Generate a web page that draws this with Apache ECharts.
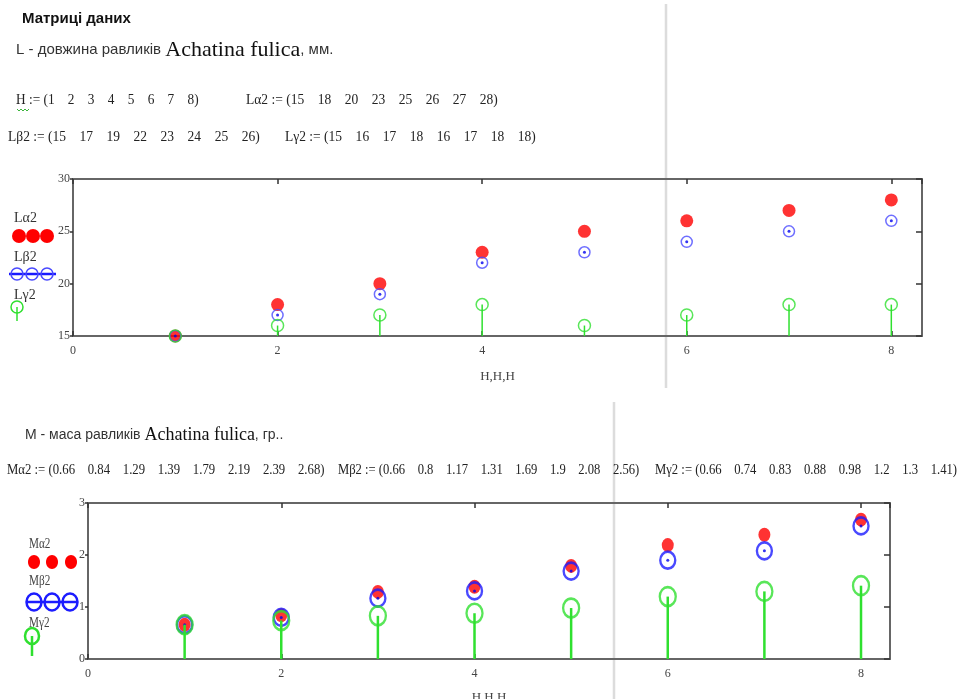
<!DOCTYPE html>
<html>
<head>
<meta charset="utf-8">
<title>Матриці даних</title>
<script src="https://cdn.jsdelivr.net/npm/echarts@6/dist/echarts.min.js"></script>
<style>
html, body { margin: 0; padding: 0; background: #fff; }
#chart { width: 962px; height: 699px; }
</style>
</head>
<body>
<div id="chart"></div>
<script>
// Matrices from the Mathcad sheet
const H = [1, 2, 3, 4, 5, 6, 7, 8];
const La2 = [15, 18, 20, 23, 25, 26, 27, 28];
const Lb2 = [15, 17, 19, 22, 23, 24, 25, 26];
const Lg2 = [15, 16, 17, 18, 16, 17, 18, 18];
const Ma2 = [0.66, 0.84, 1.29, 1.39, 1.79, 2.19, 2.39, 2.68];
const Mb2 = [0.66, 0.8, 1.17, 1.31, 1.69, 1.9, 2.08, 2.56];
const Mg2 = [0.66, 0.74, 0.83, 0.88, 0.98, 1.2, 1.3, 1.41];

// Axis tick labels
const xTicks = [0, 2, 4, 6, 8];
const xLimit = 8.3;
const lTicks = [15, 20, 25, 30];
const mTicks = [0, 1, 2, 3];

const RED = '#ff0000';
const BLUE = '#4a4aff';
const GREEN = '#2fe02f';
const serif = "'Liberation Serif', 'Times New Roman', serif";
const sans = "'Liberation Sans', Arial, sans-serif";

const zip = (xs, ys) => xs.map((x, i) => [x, ys[i]]);
const formula = (name, arr) => name + ' := (' + arr.join('\u2003') + ')';

const chart = echarts.init(document.getElementById('chart'));

// value axes, one pair (bottom/top or left/right) per plot
const xAxisFor = (grid, pos, gap) => ({
    type: 'value',
    gridIndex: grid,
    position: pos,
    min: xTicks[0],
    max: xLimit,
    interval: xTicks[1] - xTicks[0],
    name: pos === 'bottom' ? 'H,H,H' : '',
    nameLocation: 'middle',
    nameGap: gap || 34,
    nameTextStyle: { fontFamily: serif, fontSize: 13, color: '#444' },
    axisLine: { show: true, onZero: false, lineStyle: { color: '#666', width: 2 } },
    axisTick: { show: true, inside: true, length: 5, lineStyle: { color: '#333', width: 1.5 } },
    axisLabel: {
        show: pos === 'bottom',
        showMaxLabel: false,
        margin: 9,
        fontFamily: serif,
        fontSize: 12,
        color: '#444'
    },
    splitLine: { show: false }
});

const yAxisFor = (grid, pos, ticks) => ({
    type: 'value',
    gridIndex: grid,
    position: pos,
    min: ticks[0],
    max: ticks[ticks.length - 1],
    interval: ticks[1] - ticks[0],
    axisLine: { show: true, onZero: false, lineStyle: { color: '#666', width: 2 } },
    axisTick: {
        show: true,
        inside: pos === 'right',
        length: pos === 'right' ? 6 : 3,
        lineStyle: { color: '#333', width: 1.5 }
    },
    axisLabel: {
        show: pos === 'left',
        margin: 3,
        fontFamily: serif,
        fontSize: 12,
        color: '#444'
    },
    splitLine: { show: false }
});

// stem from the point down to the bottom of the axis
const stem = (base, width) => (params, api) => {
    const top = api.coord([api.value(0), api.value(1)]);
    const bottom = api.coord([api.value(0), base]);
    return {
        type: 'line',
        shape: { x1: top[0], y1: top[1], x2: bottom[0], y2: bottom[1] },
        style: { stroke: GREEN, lineWidth: width }
    };
};

const ring = (color, width) => ({ color: 'rgba(0,0,0,0)', borderColor: color, borderWidth: width });

const text = (x, y, str, font, extra, fill) => Object.assign({
    type: 'text', x: x, y: y, z: 10,
    style: { text: str, font: font, fill: fill || '#222', verticalAlign: 'middle' }
}, extra || {});

const option = {
    animation: false,
    backgroundColor: '#fff',
    grid: [
        { left: 73, top: 179, width: 849, height: 157, outerBoundsMode: 'none' },
        { left: 88, top: 503, width: 802, height: 156, outerBoundsMode: 'none' }
    ],
    xAxis: [xAxisFor(0, 'bottom', 34), xAxisFor(0, 'top'), xAxisFor(1, 'bottom', 32), xAxisFor(1, 'top')],
    yAxis: [yAxisFor(0, 'left', lTicks), yAxisFor(0, 'right', lTicks),
            yAxisFor(1, 'left', mTicks), yAxisFor(1, 'right', mTicks)],
    series: [
        // upper plot: length
        { name: 'Lα2', type: 'scatter', xAxisIndex: 0, yAxisIndex: 0, z: 2,
          data: zip(H, La2), symbol: 'circle', symbolSize: 13, itemStyle: { color: RED } },
        { name: 'Lβ2', type: 'scatter', xAxisIndex: 0, yAxisIndex: 0, z: 3,
          data: zip(H, Lb2), symbol: 'circle', symbolSize: 11, itemStyle: ring(BLUE, 1.5) },
        { name: 'Lβ2 dot', type: 'scatter', xAxisIndex: 0, yAxisIndex: 0, z: 3,
          data: zip(H, Lb2), symbol: 'circle', symbolSize: 3, itemStyle: { color: '#0000ee' } },
        { name: 'Lγ2 stem', type: 'custom', xAxisIndex: 0, yAxisIndex: 0, z: 4,
          data: zip(H, Lg2), encode: { x: 0, y: 1 }, renderItem: stem(lTicks[0], 1.5) },
        { name: 'Lγ2', type: 'scatter', xAxisIndex: 0, yAxisIndex: 0, z: 4,
          data: zip(H, Lg2), symbol: 'circle', symbolSize: 12, itemStyle: ring(GREEN, 1.5) },

        // lower plot: mass
        { name: 'Mα2', type: 'scatter', xAxisIndex: 2, yAxisIndex: 2, z: 2,
          data: zip(H, Ma2), symbol: 'circle', symbolSize: [12, 14], itemStyle: { color: RED } },
        { name: 'Mβ2', type: 'scatter', xAxisIndex: 2, yAxisIndex: 2, z: 3,
          data: zip(H, Mb2), symbol: 'circle', symbolSize: [15, 17], itemStyle: ring('#1c1cff', 2.5) },
        { name: 'Mβ2 dot', type: 'scatter', xAxisIndex: 2, yAxisIndex: 2, z: 3,
          data: zip(H, Mb2), symbol: 'circle', symbolSize: 3, itemStyle: { color: '#0000ee' } },
        { name: 'Mγ2 stem', type: 'custom', xAxisIndex: 2, yAxisIndex: 2, z: 4,
          data: zip(H, Mg2), encode: { x: 0, y: 1 }, renderItem: stem(mTicks[0], 2.5) },
        { name: 'Mγ2', type: 'scatter', xAxisIndex: 2, yAxisIndex: 2, z: 4,
          data: zip(H, Mg2), symbol: 'circle', symbolSize: [16, 19], itemStyle: ring(GREEN, 2.5) }
    ],
    graphic: [
        // page break lines of the worksheet
        { type: 'line', z: -10, shape: { x1: 666, y1: 4, x2: 666, y2: 388 },
          style: { stroke: '#dcdcdc', lineWidth: 2.5 } },
        { type: 'line', z: -10, shape: { x1: 614, y1: 402, x2: 614, y2: 699 },
          style: { stroke: '#dcdcdc', lineWidth: 2.5 } },

        // header texts
        text(22, 19, 'Матриці даних', 'bold 15px ' + sans, null, '#111'),
        { type: 'text', x: 16, y: 50, z: 10, style: {
            text: '{a|L - довжина равликів }{b|Achatina fulica}{a|, мм.}',
            verticalAlign: 'middle',
            rich: {
                a: { font: '15px ' + sans, fill: '#333' },
                b: { font: '22px ' + serif, fill: '#111' }
            } } },
        text(16, 100, formula('H', H), '14px ' + serif, { scaleX: 0.95 }),
        { type: 'polyline', z: 10, shape: { points: [[17, 109], [19, 111], [21, 109], [23, 111], [25, 109], [27, 111], [29, 109]] },
          style: { stroke: '#3cb43c', lineWidth: 1, fill: null } },
        text(246, 100, formula('Lα2', La2), '14px ' + serif, { scaleX: 0.965 }),
        text(8, 137, formula('Lβ2', Lb2), '14px ' + serif, { scaleX: 0.965 }),
        text(285, 137, formula('Lγ2', Lg2), '14px ' + serif, { scaleX: 0.965 }),

        { type: 'text', x: 25, y: 435, z: 10, style: {
            text: '{a|M - маса равликів }{b|Achatina fulica}{a|, гр..}',
            verticalAlign: 'middle',
            rich: {
                a: { font: '14px ' + sans, fill: '#333' },
                b: { font: '18px ' + serif, fill: '#111' }
            } } },
        text(7, 470, formula('Mα2', Ma2), '14px ' + serif, { scaleX: 0.91 }),
        text(338, 470, formula('Mβ2', Mb2), '14px ' + serif, { scaleX: 0.9 }),
        text(655, 470, formula('Mγ2', Mg2), '14px ' + serif, { scaleX: 0.905 }),

        // legend of the upper plot
        text(14, 218, 'Lα2', '14px ' + serif, null, '#333'),
        { type: 'circle', z: 10, shape: { cx: 19, cy: 236, r: 7 }, style: { fill: RED } },
        { type: 'circle', z: 10, shape: { cx: 33, cy: 236, r: 7 }, style: { fill: RED } },
        { type: 'circle', z: 10, shape: { cx: 47, cy: 236, r: 7 }, style: { fill: RED } },
        text(14, 257, 'Lβ2', '14px ' + serif, null, '#333'),
        { type: 'line', z: 10, shape: { x1: 9, y1: 274, x2: 56, y2: 274 }, style: { stroke: '#1a1aff', lineWidth: 2.5 } },
        { type: 'circle', z: 10, shape: { cx: 17, cy: 274, r: 6 }, style: { stroke: BLUE, lineWidth: 1.5, fill: null } },
        { type: 'circle', z: 10, shape: { cx: 32, cy: 274, r: 6 }, style: { stroke: BLUE, lineWidth: 1.5, fill: null } },
        { type: 'circle', z: 10, shape: { cx: 47, cy: 274, r: 6 }, style: { stroke: BLUE, lineWidth: 1.5, fill: null } },
        text(14, 295, 'Lγ2', '14px ' + serif, null, '#333'),
        { type: 'circle', z: 11, shape: { cx: 17, cy: 307, r: 6 }, style: { stroke: GREEN, lineWidth: 1.5, fill: null } },
        { type: 'line', z: 11, shape: { x1: 17, y1: 307, x2: 17, y2: 321 }, style: { stroke: GREEN, lineWidth: 1.5 } },

        // legend of the lower plot
        text(29, 544, 'Mα2', '14px ' + serif, { scaleX: 0.8 }, '#444'),
        { type: 'ellipse', z: 10, shape: { cx: 34, cy: 562, rx: 6, ry: 7 }, style: { fill: RED } },
        { type: 'ellipse', z: 10, shape: { cx: 52, cy: 562, rx: 6, ry: 7 }, style: { fill: RED } },
        { type: 'ellipse', z: 10, shape: { cx: 71, cy: 562, rx: 6, ry: 7 }, style: { fill: RED } },
        text(29, 581, 'Mβ2', '14px ' + serif, { scaleX: 0.8 }, '#444'),
        { type: 'line', z: 10, shape: { x1: 27, y1: 602, x2: 78, y2: 602 }, style: { stroke: '#1c1cff', lineWidth: 2.5 } },
        { type: 'ellipse', z: 10, shape: { cx: 34, cy: 602, rx: 7.5, ry: 8.5 }, style: { stroke: '#1c1cff', lineWidth: 2.5, fill: null } },
        { type: 'ellipse', z: 10, shape: { cx: 52, cy: 602, rx: 7.5, ry: 8.5 }, style: { stroke: '#1c1cff', lineWidth: 2.5, fill: null } },
        { type: 'ellipse', z: 10, shape: { cx: 70, cy: 602, rx: 7.5, ry: 8.5 }, style: { stroke: '#1c1cff', lineWidth: 2.5, fill: null } },
        text(29, 623, 'Mγ2', '14px ' + serif, { scaleX: 0.8 }, '#444'),
        { type: 'ellipse', z: 11, shape: { cx: 32, cy: 636, rx: 7, ry: 8 }, style: { stroke: GREEN, lineWidth: 2.5, fill: null } },
        { type: 'line', z: 11, shape: { x1: 32, y1: 636, x2: 32, y2: 656 }, style: { stroke: GREEN, lineWidth: 2.5 } }
    ]
};

chart.setOption(option);
window.addEventListener('resize', () => chart.resize());
</script>
</body>
</html>
